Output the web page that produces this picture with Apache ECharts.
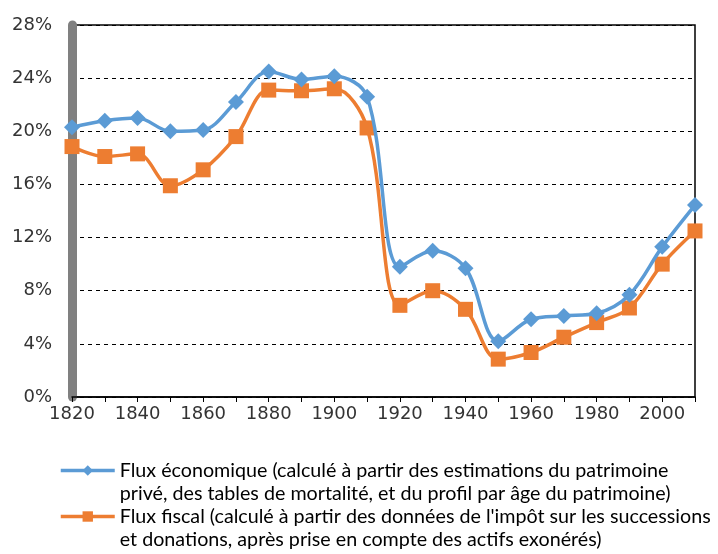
<!DOCTYPE html>
<html lang="fr">
<head>
    <meta charset="UTF-8">
    <title>Flux successoral</title>
    <script src="https://cdn.jsdelivr.net/npm/echarts@6/dist/echarts.min.js"></script>
    <style>
        html, body { margin: 0; padding: 0; background: #fff; }
    </style>
</head>
<body>
        <div id="main" style="width: 718px;height:554px;"></div>
        <script type="text/javascript">
            // données (en % du revenu)
            var years = ['1820','1830','1840','1850','1860','1870','1880','1890','1900','1910',
                         '1920','1930','1940','1950','1960','1970','1980','1990','2000','2010'];
            var fluxEco = [20.3, 20.8, 21.0, 20.0, 20.1, 22.2, 24.5, 23.9, 24.15, 22.6,
                           9.8, 11.0, 9.7, 4.2, 5.85, 6.1, 6.3, 7.7, 11.3, 14.45];
            var fluxFiscal = [18.85, 18.1, 18.3, 15.9, 17.1, 19.6, 23.1, 23.05, 23.2, 20.25,
                              6.9, 8.0, 6.6, 2.85, 3.35, 4.5, 5.6, 6.7, 10.0, 12.5];
            var nameEco = 'Flux économique';
            var nameFiscal = 'Flux fiscal';
            var legendText = {};
            legendText[nameEco] = 'Flux économique (calculé à partir des estimations du patrimoine\nprivé, des tables de mortalité, et du profil par âge du patrimoine)';
            legendText[nameFiscal] = 'Flux fiscal (calculé à partir des données de l\'impôt sur les successions\net donations, après prise en compte des actifs exonérés)';

            // une légende par série, ligne vide en tête pour caler l'icône sur la 1re ligne
            function makeLegend(name, top) {
                return {
                    data: [name],
                    left: 59,
                    top: top,
                    padding: 0,
                    itemWidth: 54,
                    itemHeight: 13,
                    itemGap: 5,
                    lineStyle: { width: 3.5 },
                    formatter: function (n) { return '\n' + legendText[n]; },
                    textStyle: {
                        fontFamily: 'Lato',
                        fontSize: 19.7,
                        lineHeight: 23,
                        color: '#000'
                    }
                };
            }

            var myChart = echarts.init(document.getElementById('main'));
            var option = {
                animation: false,
                grid: {
                    left: 72, right: 23, top: 25, bottom: 157,
                    show: true, borderColor: '#000', borderWidth: 1.5
                },
                legend: [makeLegend(nameEco, 436), makeLegend(nameFiscal, 482)],
                xAxis: {
                    type: 'category',
                    data: years,
                    boundaryGap: false,
                    axisLine: { lineStyle: { color: '#000', width: 1.5 } },
                    axisTick: { interval: 0, length: 5, lineStyle: { color: '#000' } },
                    axisLabel: {
                        interval: 1, margin: 8,
                        fontFamily: 'DejaVu Sans', fontSize: 18, color: '#333'
                    }
                },
                yAxis: {
                    type: 'value',
                    min: 0, max: 28, interval: 4,
                    axisLine: { show: true, lineStyle: { color: '#808080', width: 9 } },
                    axisTick: { show: false },
                    axisLabel: {
                        margin: 20,
                        formatter: '{value}%',
                        fontFamily: 'DejaVu Sans', fontSize: 18, color: '#333'
                    },
                    splitLine: { lineStyle: { color: '#000', type: [4, 4], width: 1 } }
                },
                series: [
                    {
                        name: nameEco,
                        type: 'line',
                        data: fluxEco,
                        smooth: 0.35,
                        symbol: 'diamond',
                        symbolSize: 16,
                        lineStyle: { width: 3.5, color: '#5B9BD5' },
                        itemStyle: { color: '#5B9BD5' },
                        z: 3
                    },
                    {
                        name: nameFiscal,
                        type: 'line',
                        data: fluxFiscal,
                        smooth: 0.35,
                        symbol: 'rect',
                        symbolSize: 15,
                        lineStyle: { width: 3.5, color: '#ED7D31' },
                        itemStyle: { color: '#ED7D31' },
                        z: 2
                    }
                ]
            };
            myChart.setOption(option);
        </script>

</body>
</html>
